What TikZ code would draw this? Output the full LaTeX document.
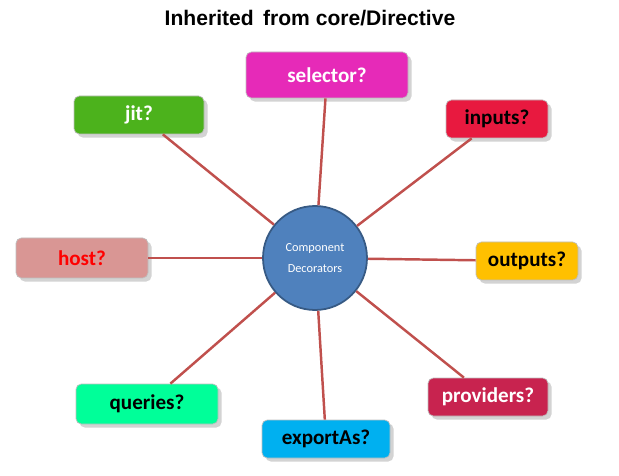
\documentclass[tikz,border=0pt]{standalone}
\usepackage{fontspec}
\setmainfont{Carlito}
\newfontfamily\titlefont{Liberation Sans}
\usetikzlibrary{shadows}
\definecolor{spoke}{HTML}{C0504D}
\definecolor{hub}{HTML}{4F81BD}
\tikzset{
	decobox/.style={
		draw=black!25,
		rounded corners=3pt,
		minimum height=38*0.02cm,
		minimum width=102*0.02cm,
		font={\large\bfseries},
		drop shadow={opacity=0.35, shadow xshift=2pt, shadow yshift=-2pt}
	},
	spokeline/.style={
		draw=spoke,
		line width=1.4pt
	}
}
\begin{document}
\begin{tikzpicture}[x=0.02cm, y=-0.02cm]
\useasboundingbox (0,0) rectangle (619,476);

\node(title) at (310,18) {\titlefont\bfseries\large Inherited\, from core/Directive};

\node(hub)[circle, fill=hub, draw=hub!70!black, line width=1pt, minimum size=104*0.02cm,
	align=center, text=white, font=\scriptsize] at (315,258) {Component\\[4pt]Decorators};

\node(selector)[decobox, fill={rgb,255:red,230;green,42;blue,184}, text=white,
	minimum width=162*0.02cm, minimum height=46*0.02cm] at (327,75) {selector?};
\node(inputs)[decobox, fill={rgb,255:red,232;green,25;blue,63}] at (497,119) {inputs?};
\node(outputs)[decobox, fill={rgb,255:red,255;green,192;blue,0}] at (527,261) {outputs?};
\node(providers)[decobox, fill={rgb,255:red,200;green,35;blue,79}, text=white,
	minimum width=120*0.02cm] at (488,397) {providers?};
\node(exportAs)[decobox, fill={rgb,255:red,0;green,176;blue,240},
	minimum width=128*0.02cm] at (326,439) {exportAs?};
\node(queries)[decobox, fill={rgb,255:red,0;green,255;blue,153},
	minimum width=142*0.02cm, minimum height=40*0.02cm] at (147,404) {queries?};
\node(host)[decobox, fill={rgb,255:red,217;green,150;blue,148}, text=red,
	minimum width=132*0.02cm, minimum height=40*0.02cm] at (82,258) {host?};
\node(jit)[decobox, fill={rgb,255:red,76;green,178;blue,28}, text=white,
	minimum width=130*0.02cm] at (139,115) {jit?};

\foreach \dd in {selector, inputs, outputs, providers, exportAs, queries, host, jit}
	\draw[spokeline] (hub) -- (\dd);

\end{tikzpicture}
\end{document}
